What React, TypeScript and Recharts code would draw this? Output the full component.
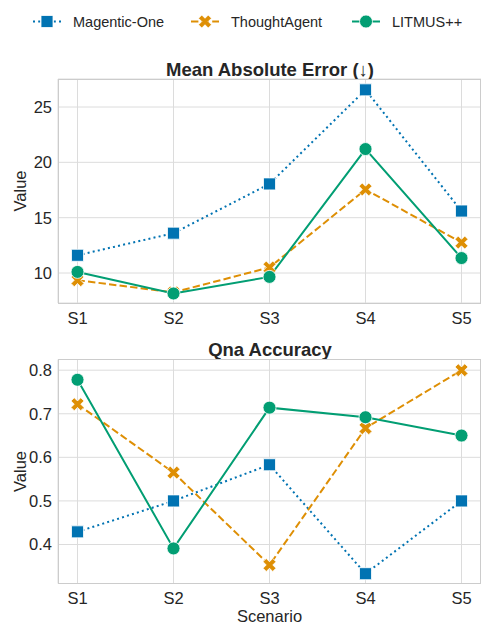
import { LineChart, Line, CartesianGrid, XAxis, YAxis } from 'recharts'

const categories = ['S1', 'S2', 'S3', 'S4', 'S5']

const maeMagentic = [11.6, 13.6, 18.05, 26.55, 15.6]
const maeThought = [9.35, 8.25, 10.5, 17.55, 12.75]
const maeLitmus = [10.1, 8.15, 9.65, 21.2, 11.35]

const qnaMagentic = [0.429, 0.5, 0.583, 0.333, 0.5]
const qnaThought = [0.722, 0.565, 0.353, 0.667, 0.8]
const qnaLitmus = [0.778, 0.391, 0.714, 0.692, 0.65]

const maeTicks = [10, 15, 20, 25]
const qnaTicks = [0.4, 0.5, 0.6, 0.7, 0.8]

const COLORS = {
  magentic: '#0173B2',
  thought: '#DE8F05',
  litmus: '#029E73',
}

const FONT = '"Liberation Sans", Arial, sans-serif'
const TEXT = '#262626'
const GRID = '#dcdcdc'
const BORDER = '#cccccc'

const W = 481
const PLOT_LEFT = 58

function buildRows(m: number[], t: number[], l: number[]) {
  return categories.map((name, i) => ({ name, magentic: m[i], thought: t[i], litmus: l[i] }))
}

const maeRows = buildRows(maeMagentic, maeThought, maeLitmus)
const qnaRows = buildRows(qnaMagentic, qnaThought, qnaLitmus)

// marker shapes (square, filled X like matplotlib, circle)
function squarePath(cx: number, cy: number, s = 6) {
  return `M${cx - s},${cy - s}h${2 * s}v${2 * s}h${-2 * s}Z`
}

function xPath(cx: number, cy: number, k = 13) {
  const pts = [
    [-0.25, -0.5], [0, -0.25], [0.25, -0.5], [0.5, -0.25], [0.25, 0], [0.5, 0.25],
    [0.25, 0.5], [0, 0.25], [-0.25, 0.5], [-0.5, 0.25], [-0.25, 0], [-0.5, -0.25],
  ]
  return 'M' + pts.map(([x, y]) => `${cx + x * k},${cy + y * k}`).join('L') + 'Z'
}

const SquareDot = (p: any) =>
  p.cx == null ? null : (
    <path key={`sq-${p.index}`} d={squarePath(p.cx, p.cy)} fill={COLORS.magentic} stroke="#fff" strokeWidth={0.8} />
  )

const XDot = (p: any) =>
  p.cx == null ? null : (
    <path key={`x-${p.index}`} d={xPath(p.cx, p.cy)} fill={COLORS.thought} stroke="#fff" strokeWidth={0.8} />
  )

const CircleDot = (p: any) =>
  p.cx == null ? null : (
    <circle key={`c-${p.index}`} cx={p.cx} cy={p.cy} r={6.5} fill={COLORS.litmus} stroke="#fff" strokeWidth={0.8} />
  )

interface PanelProps {
  rows: typeof maeRows
  domain: [number, number]
  ticks: number[]
  top: number
  height: number
  marginTop: number
  xAxisHeight: number
  xLabel?: string
}

function Panel({ rows, domain, ticks, top, height, marginTop, xAxisHeight, xLabel }: PanelProps) {
  return (
    <div style={{ position: 'absolute', left: 0, top }}>
      <LineChart width={W} height={height} data={rows} margin={{ top: marginTop, right: 0, bottom: 0, left: 0 }}>
        <CartesianGrid stroke={GRID} strokeWidth={1} />
        <XAxis
          dataKey="name"
          padding={{ left: 19.5, right: 19.5 }}
          height={xAxisHeight}
          axisLine={false}
          tickLine={false}
          tickSize={0}
          tickMargin={9}
          tick={{ fill: TEXT, fontSize: 16.5, fontFamily: FONT }}
          label={
            xLabel
              ? { value: xLabel, position: 'insideBottom', offset: 1.5, style: { fill: TEXT, fontSize: 16.5, fontFamily: FONT } }
              : undefined
          }
        />
        <YAxis
          width={PLOT_LEFT}
          domain={domain}
          ticks={ticks}
          allowDataOverflow
          axisLine={false}
          tickLine={false}
          tickSize={0}
          tickMargin={6}
          tick={{ fill: TEXT, fontSize: 16.5, fontFamily: FONT }}
          label={{
            value: 'Value',
            angle: -90,
            position: 'insideLeft',
            dx: 15,
            style: { textAnchor: 'middle', fill: TEXT, fontSize: 16.5, fontFamily: FONT },
          }}
        />
        <Line
          dataKey="magentic"
          stroke={COLORS.magentic}
          strokeWidth={2}
          strokeDasharray="2 3.2"
          dot={SquareDot}
          activeDot={false}
          isAnimationActive={false}
        />
        <Line
          dataKey="thought"
          stroke={COLORS.thought}
          strokeWidth={2}
          strokeDasharray="7.4 3.2"
          dot={XDot}
          activeDot={false}
          isAnimationActive={false}
        />
        <Line
          dataKey="litmus"
          stroke={COLORS.litmus}
          strokeWidth={2}
          dot={CircleDot}
          activeDot={false}
          isAnimationActive={false}
        />
      </LineChart>
    </div>
  )
}

const legendItems = [
  { label: 'Magentic-One', x: 47, color: COLORS.magentic, dash: '2 3.2', shape: 'square' },
  { label: 'ThoughtAgent', x: 205, color: COLORS.thought, dash: '7.4 3.2', shape: 'x' },
  { label: 'LITMUS++', x: 366, color: COLORS.litmus, dash: undefined, shape: 'circle' },
]

function Overlay() {
  const ly = 21.5
  return (
    <svg width={W} height={623} style={{ position: 'absolute', left: 0, top: 0, pointerEvents: 'none' }}>
      {legendItems.map((it) => (
        <g key={it.label}>
          <line x1={it.x - 14} x2={it.x + 14} y1={ly} y2={ly} stroke={it.color} strokeWidth={2} strokeDasharray={it.dash} />
          {it.shape === 'square' && <path d={squarePath(it.x, ly)} fill={it.color} stroke="#fff" strokeWidth={0.8} />}
          {it.shape === 'x' && <path d={xPath(it.x, ly)} fill={it.color} stroke="#fff" strokeWidth={0.8} />}
          {it.shape === 'circle' && <circle cx={it.x} cy={ly} r={6.5} fill={it.color} stroke="#fff" strokeWidth={0.8} />}
          <text x={it.x + 26} y={ly} dominantBaseline="central" fill={TEXT} fontSize={14.5} fontFamily={FONT}>
            {it.label}
          </text>
        </g>
      ))}
      <text x={270} y={76} textAnchor="middle" fill={TEXT} fontSize={18.5} fontWeight="bold" fontFamily={FONT}>
        Mean Absolute Error (↓)
      </text>
      <text x={270} y={355.5} textAnchor="middle" fill={TEXT} fontSize={18.5} fontWeight="bold" fontFamily={FONT}>
        Qna Accuracy
      </text>
      <rect x={PLOT_LEFT + 0.5} y={79.5} width={W - PLOT_LEFT - 1} height={224} fill="none" stroke={BORDER} />
      <rect x={PLOT_LEFT + 0.5} y={359.5} width={W - PLOT_LEFT - 1} height={224} fill="none" stroke={BORDER} />
    </svg>
  )
}

export default function App() {
  return (
    <div style={{ position: 'absolute', left: 0, top: 0, width: W, height: 623, background: '#fff', fontFamily: FONT }}>
      <Panel rows={maeRows} domain={[7.29, 27.53]} ticks={maeTicks} top={0} height={340} marginTop={79} xAxisHeight={37} />
      <Panel
        rows={qnaRows}
        domain={[0.3105, 0.8245]}
        ticks={qnaTicks}
        top={330}
        height={293}
        marginTop={29.5}
        xAxisHeight={39.5}
        xLabel="Scenario"
      />
      <Overlay />
    </div>
  )
}
